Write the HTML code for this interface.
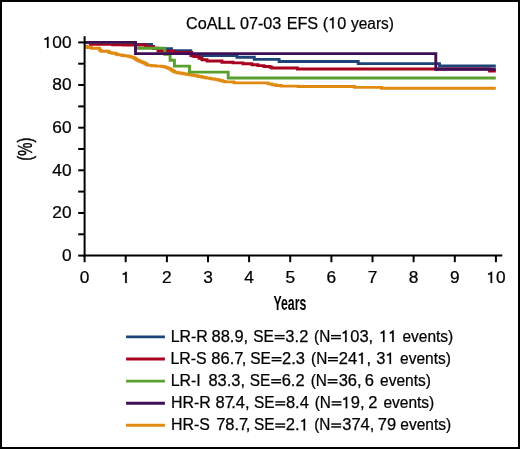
<!DOCTYPE html>
<html><head><meta charset="utf-8"><style>
html,body{margin:0;padding:0;background:#fff;}
body{width:520px;height:449px;overflow:hidden;}
svg{display:block;font-family:"Liberation Sans",sans-serif;}
text{filter:grayscale(1);stroke:#000;stroke-width:0.25px;}
</style></head><body>
<svg width="520" height="449" viewBox="0 0 520 449" xmlns="http://www.w3.org/2000/svg">
<rect x="1" y="1" width="518" height="447" fill="#fff" stroke="#000" stroke-width="2"/>
<text transform="translate(186.08,28.6) scale(1.000,1)" font-size="16.2">CoALL</text><text transform="translate(239.97,28.6) scale(1.000,1)" font-size="16.2">07-03</text><text transform="translate(286.67,28.6) scale(1.000,1)" font-size="16.2">EFS</text><g transform="translate(322.80,28.6) scale(1.000,1)"><text  font-size="16.2">( 0</text><path d="M9.34 0.00 L10.88 0.00 L10.88 -11.42 L9.83 -11.42 Q8.94 -9.72 7.00 -9.56 L7.00 -8.18 Q8.45 -8.26 9.34 -8.91 Z" fill="#000" stroke="#000" stroke-width="0.15"/></g><text transform="translate(350.96,28.6) scale(0.955,1)" font-size="16.2">years)</text>
<g fill="none" stroke-width="2.9" stroke-linejoin="miter" stroke-linecap="butt">
<path d="M84.6 46.3 H87.0 V47.5 H91.5 V48.3 H99.5 V50.0 H101.0 V51.3 H109.0 V52.6 H112.0 V53.2 H116.0 V54.2 H118.0 V54.9 H122.0 V55.5 H125.0 V55.9 H128.0 V56.3 H130.0 V56.9 H132.0 V57.3 H134.0 V58.2 H135.5 V59.2 H137.0 V60.2 H139.0 V61.2 H141.0 V62.0 H143.0 V62.7 H145.0 V63.7 H146.5 V64.6 H148.0 V65.4 H152.0 V65.8 H156.0 V66.1 H162.0 V66.5 H164.0 V66.9 H166.0 V67.6 H168.0 V68.4 H170.0 V69.2 H171.5 V70.2 H173.0 V71.2 H174.5 V72.1 H177.0 V72.7 H180.0 V73.3 H183.0 V73.8 H186.0 V74.3 H189.0 V74.8 H192.0 V75.2 H195.0 V75.8 H198.0 V76.5 H202.0 V77.2 H205.0 V77.7 H207.0 V78.1 H210.0 V78.6 H212.0 V79.0 H215.0 V79.4 H217.0 V79.8 H219.0 V80.3 H221.0 V80.8 H223.0 V81.4 H225.0 V81.9 H234.0 V82.9 H268.0 V83.9 H272.0 V84.8 H276.0 V85.5 H281.0 V86.1 H298.0 V86.5 H354.5 V87.4 H381.5 V88.2 H495.8" stroke="#e08a12"/>
<path d="M84.6 42.4 H124.0 V44.4 H151.5 V46.5 H153.6 V48.6 H166.3 V48.6 H171.5 V50.6 H190.8 V55.5 H237.0 V57.3 H254.3 V59.4 H279.1 V61.5 H358.2 V63.6 H439.5 V66.0 H495.8" stroke="#1d4479"/>
<path d="M84.6 42.4 H90.3 V44.4 H112.6 V44.8 H123.4 V45.0 H145.5 V46.6 H153.5 V48.3 H158.0 V51.0 H164.0 V51.3 H174.4 V52.5 H191.7 V55.8 H194.0 V56.6 H199.0 V58.2 H202.0 V59.8 H207.0 V61.0 H222.0 V62.2 H233.0 V62.9 H243.0 V63.8 H252.0 V64.7 H258.0 V65.6 H264.0 V66.5 H270.0 V67.2 H272.0 V68.0 H297.4 V69.0 H489.5 V71.0 H495.8" stroke="#a8001f"/>
<path d="M84.6 42.4 H135.5 V48.3 H164.8 V54.3 H170.1 V60.2 H174.4 V66.1 H189.5 V72.1 H228.2 V78.0 H495.8" stroke="#5aa02e"/>
<path d="M84.6 42.4 H135.5 V53.6 H435.8 V69.2 H495.8" stroke="#3e0f55"/>
</g>
<g stroke="#000" stroke-width="2" fill="none">
<line x1="84.6" y1="36.2" x2="84.6" y2="256.6"/>
<line x1="83.6" y1="255.6" x2="502.3" y2="255.6"/>
<line x1="84.6" y1="255.6" x2="84.6" y2="262.2"/><line x1="125.7" y1="255.6" x2="125.7" y2="262.2"/><line x1="166.9" y1="255.6" x2="166.9" y2="262.2"/><line x1="208.0" y1="255.6" x2="208.0" y2="262.2"/><line x1="249.1" y1="255.6" x2="249.1" y2="262.2"/><line x1="290.2" y1="255.6" x2="290.2" y2="262.2"/><line x1="331.4" y1="255.6" x2="331.4" y2="262.2"/><line x1="372.5" y1="255.6" x2="372.5" y2="262.2"/><line x1="413.6" y1="255.6" x2="413.6" y2="262.2"/><line x1="454.8" y1="255.6" x2="454.8" y2="262.2"/><line x1="495.9" y1="255.6" x2="495.9" y2="262.2"/><line x1="78.2" y1="255.6" x2="84.6" y2="255.6"/><line x1="78.2" y1="234.3" x2="84.6" y2="234.3"/><line x1="78.2" y1="213.0" x2="84.6" y2="213.0"/><line x1="78.2" y1="191.6" x2="84.6" y2="191.6"/><line x1="78.2" y1="170.3" x2="84.6" y2="170.3"/><line x1="78.2" y1="149.0" x2="84.6" y2="149.0"/><line x1="78.2" y1="127.7" x2="84.6" y2="127.7"/><line x1="78.2" y1="106.4" x2="84.6" y2="106.4"/><line x1="78.2" y1="85.0" x2="84.6" y2="85.0"/><line x1="78.2" y1="63.7" x2="84.6" y2="63.7"/><line x1="78.2" y1="42.4" x2="84.6" y2="42.4"/>
</g>
<g font-size="16.5" fill="#000">
<text transform="translate(84.60,282.9) scale(1.05,0.965)" text-anchor="middle">0</text><g transform="translate(125.73,282.9) scale(1.05,0.965)"><text  text-anchor="middle"> </text><path d="M-0.54 0.00 L1.02 0.00 L1.02 -11.63 L-0.05 -11.63 Q-0.96 -9.90 -2.94 -9.73 L-2.94 -8.33 Q-1.45 -8.42 -0.54 -9.08 Z" fill="#000" stroke="#000" stroke-width="0.15"/></g><text transform="translate(166.86,282.9) scale(1.05,0.965)" text-anchor="middle">2</text><text transform="translate(207.99,282.9) scale(1.05,0.965)" text-anchor="middle">3</text><text transform="translate(249.12,282.9) scale(1.05,0.965)" text-anchor="middle">4</text><text transform="translate(290.25,282.9) scale(1.05,0.965)" text-anchor="middle">5</text><text transform="translate(331.38,282.9) scale(1.05,0.965)" text-anchor="middle">6</text><text transform="translate(372.51,282.9) scale(1.05,0.965)" text-anchor="middle">7</text><text transform="translate(413.64,282.9) scale(1.05,0.965)" text-anchor="middle">8</text><text transform="translate(454.77,282.9) scale(1.05,0.965)" text-anchor="middle">9</text><g transform="translate(495.90,282.9) scale(1.05,0.965)"><text  text-anchor="middle"> 0</text><path d="M-5.13 0.00 L-3.56 0.00 L-3.56 -11.63 L-4.64 -11.63 Q-5.54 -9.90 -7.52 -9.73 L-7.52 -8.33 Q-6.04 -8.42 -5.13 -9.08 Z" fill="#000" stroke="#000" stroke-width="0.15"/></g>
<text transform="translate(71.6,261.00) scale(1.05,0.965)" text-anchor="end">0</text><text transform="translate(71.6,218.00) scale(1.05,0.965)" text-anchor="end">20</text><text transform="translate(71.6,176.00) scale(1.05,0.965)" text-anchor="end">40</text><text transform="translate(71.6,133.00) scale(1.05,0.965)" text-anchor="end">60</text><text transform="translate(71.6,90.00) scale(1.05,0.965)" text-anchor="end">80</text><g transform="translate(71.6,48.00) scale(1.05,0.965)"><text  text-anchor="end"> 00</text><path d="M-23.48 0.00 L-21.91 0.00 L-21.91 -11.63 L-22.98 -11.63 Q-23.89 -9.90 -25.87 -9.73 L-25.87 -8.33 Q-24.38 -8.42 -23.48 -9.08 Z" fill="#000" stroke="#000" stroke-width="0.15"/></g>
</g>
<text transform="translate(31.8,149.2) rotate(-90) scale(0.768,1)" text-anchor="middle" font-size="19.4" style="stroke-width:0.45px">(%)</text>
<text transform="translate(289.85,309.8) scale(0.598,1)" text-anchor="middle" font-size="20.6" font-weight="bold" style="stroke-width:0">Years</text>
<g font-size="16.5" fill="#000">
<line x1="126.1" y1="336.90" x2="164.9" y2="336.90" stroke="#1d4479" stroke-width="2.9"/><text transform="translate(170.69,342.00) scale(0.965,1)">LR-R</text><text transform="translate(211.48,342.00) scale(1.000,1)">88.9,</text><text transform="translate(253.30,342.00) scale(0.936,1)">SE</text><rect x="274.70" y="334.92" width="9.90" height="1.45" fill="#000"/><rect x="274.70" y="337.82" width="9.90" height="1.45" fill="#000"/><text transform="translate(285.37,342.00) scale(1.000,1)">3.2</text><text transform="translate(314.05,342.00) scale(0.930,1)">(N</text><rect x="331.00" y="334.92" width="9.90" height="1.45" fill="#000"/><rect x="331.00" y="337.82" width="9.90" height="1.45" fill="#000"/><g transform="translate(341.05,342.00) scale(1.000,1)"><text> 03,</text><path d="M4.04 0.00 L5.61 0.00 L5.61 -11.63 L4.54 -11.63 Q3.63 -9.90 1.65 -9.73 L1.65 -8.33 Q3.14 -8.42 4.04 -9.08 Z" fill="#000" stroke="#000" stroke-width="0.15"/></g><g transform="translate(378.95,342.00) scale(1.000,1)"><text>  </text><path d="M4.04 0.00 L5.61 0.00 L5.61 -11.63 L4.54 -11.63 Q3.63 -9.90 1.65 -9.73 L1.65 -8.33 Q3.14 -8.42 4.04 -9.08 Z M13.21 0.00 L14.78 0.00 L14.78 -11.63 L13.71 -11.63 Q12.80 -9.90 10.82 -9.73 L10.82 -8.33 Q12.31 -8.42 13.21 -9.08 Z" fill="#000" stroke="#000" stroke-width="0.15"/></g><text transform="translate(402.44,342.00) scale(0.940,1)">events)</text><line x1="126.1" y1="359.00" x2="164.9" y2="359.00" stroke="#a8001f" stroke-width="2.9"/><text transform="translate(170.44,364.10) scale(0.965,1)">LR-S</text><text transform="translate(211.28,364.10)">86.7</text><text transform="translate(241.70,364.10)">,</text><text transform="translate(250.20,364.10) scale(0.936,1)">SE</text><rect x="271.60" y="357.02" width="9.90" height="1.45" fill="#000"/><rect x="271.60" y="359.93" width="9.90" height="1.45" fill="#000"/><text transform="translate(282.07,364.10) scale(1.000,1)">2.3</text><text transform="translate(311.05,364.10) scale(0.930,1)">(N</text><rect x="328.00" y="357.02" width="9.90" height="1.45" fill="#000"/><rect x="328.00" y="359.93" width="9.90" height="1.45" fill="#000"/><g transform="translate(338.87,364.10) scale(1.000,1)"><text>24 ,</text><path d="M22.39 0.00 L23.95 0.00 L23.95 -11.63 L22.88 -11.63 Q21.97 -9.90 19.99 -9.73 L19.99 -8.33 Q21.48 -8.42 22.39 -9.08 Z" fill="#000" stroke="#000" stroke-width="0.15"/></g><g transform="translate(376.27,364.10) scale(1.000,1)"><text>3 </text><path d="M13.21 0.00 L14.78 0.00 L14.78 -11.63 L13.71 -11.63 Q12.80 -9.90 10.82 -9.73 L10.82 -8.33 Q12.31 -8.42 13.21 -9.08 Z" fill="#000" stroke="#000" stroke-width="0.15"/></g><text transform="translate(400.04,364.10) scale(0.940,1)">events)</text><line x1="126.1" y1="381.10" x2="164.9" y2="381.10" stroke="#5aa02e" stroke-width="2.9"/><text transform="translate(170.69,386.20) scale(0.965,1)">LR-I</text><text transform="translate(208.38,386.20) scale(1.000,1)">83.3,</text><text transform="translate(249.80,386.20) scale(0.936,1)">SE</text><rect x="271.20" y="379.12" width="9.90" height="1.45" fill="#000"/><rect x="271.20" y="382.02" width="9.90" height="1.45" fill="#000"/><text transform="translate(281.66,386.20) scale(1.000,1)">6.2</text><text transform="translate(310.65,386.20) scale(0.930,1)">(N</text><rect x="327.60" y="379.12" width="9.90" height="1.45" fill="#000"/><rect x="327.60" y="382.02" width="9.90" height="1.45" fill="#000"/><text transform="translate(338.67,386.20) scale(1.000,1)">36,</text><text transform="translate(364.66,386.20) scale(1.000,1)">6</text><text transform="translate(380.04,386.20) scale(0.940,1)">events)</text><line x1="126.1" y1="403.20" x2="164.9" y2="403.20" stroke="#3e0f55" stroke-width="2.9"/><text transform="translate(170.99,408.30) scale(0.965,1)">HR-R</text><text transform="translate(215.58,408.30)">87</text><text transform="translate(231.24,408.30)">.4,</text><text transform="translate(253.90,408.30) scale(0.936,1)">SE</text><rect x="275.30" y="401.22" width="9.90" height="1.45" fill="#000"/><rect x="275.30" y="404.12" width="9.90" height="1.45" fill="#000"/><text transform="translate(285.88,408.30) scale(1.000,1)">8.4</text><text transform="translate(314.65,408.30) scale(0.930,1)">(N</text><rect x="331.60" y="401.22" width="9.90" height="1.45" fill="#000"/><rect x="331.60" y="404.12" width="9.90" height="1.45" fill="#000"/><g transform="translate(341.65,408.30) scale(1.000,1)"><text> 9,</text><path d="M4.04 0.00 L5.61 0.00 L5.61 -11.63 L4.54 -11.63 Q3.63 -9.90 1.65 -9.73 L1.65 -8.33 Q3.14 -8.42 4.04 -9.08 Z" fill="#000" stroke="#000" stroke-width="0.15"/></g><text transform="translate(368.17,408.30) scale(1.000,1)">2</text><text transform="translate(383.44,408.30) scale(0.940,1)">events)</text><line x1="126.1" y1="425.30" x2="164.9" y2="425.30" stroke="#e08a12" stroke-width="2.9"/><text transform="translate(170.99,430.40) scale(0.965,1)">HR-S</text><text transform="translate(216.15,430.40)">78.7</text><text transform="translate(245.67,430.40)">,</text><text transform="translate(253.90,430.40) scale(0.936,1)">SE</text><rect x="275.30" y="423.32" width="9.90" height="1.45" fill="#000"/><rect x="275.30" y="426.22" width="9.90" height="1.45" fill="#000"/><g transform="translate(285.77,430.40) scale(1.000,1)"><text>2. </text><path d="M17.79 0.00 L19.36 0.00 L19.36 -11.63 L18.29 -11.63 Q17.38 -9.90 15.40 -9.73 L15.40 -8.33 Q16.89 -8.42 17.79 -9.08 Z" fill="#000" stroke="#000" stroke-width="0.15"/></g><text transform="translate(314.25,430.40) scale(0.930,1)">(N</text><rect x="331.20" y="423.32" width="9.90" height="1.45" fill="#000"/><rect x="331.20" y="426.22" width="9.90" height="1.45" fill="#000"/><text transform="translate(342.27,430.40) scale(1.000,1)">374,</text><text transform="translate(377.85,430.40) scale(1.000,1)">79</text><text transform="translate(400.34,430.40) scale(0.940,1)">events)</text>
</g>
</svg>
</body></html>
